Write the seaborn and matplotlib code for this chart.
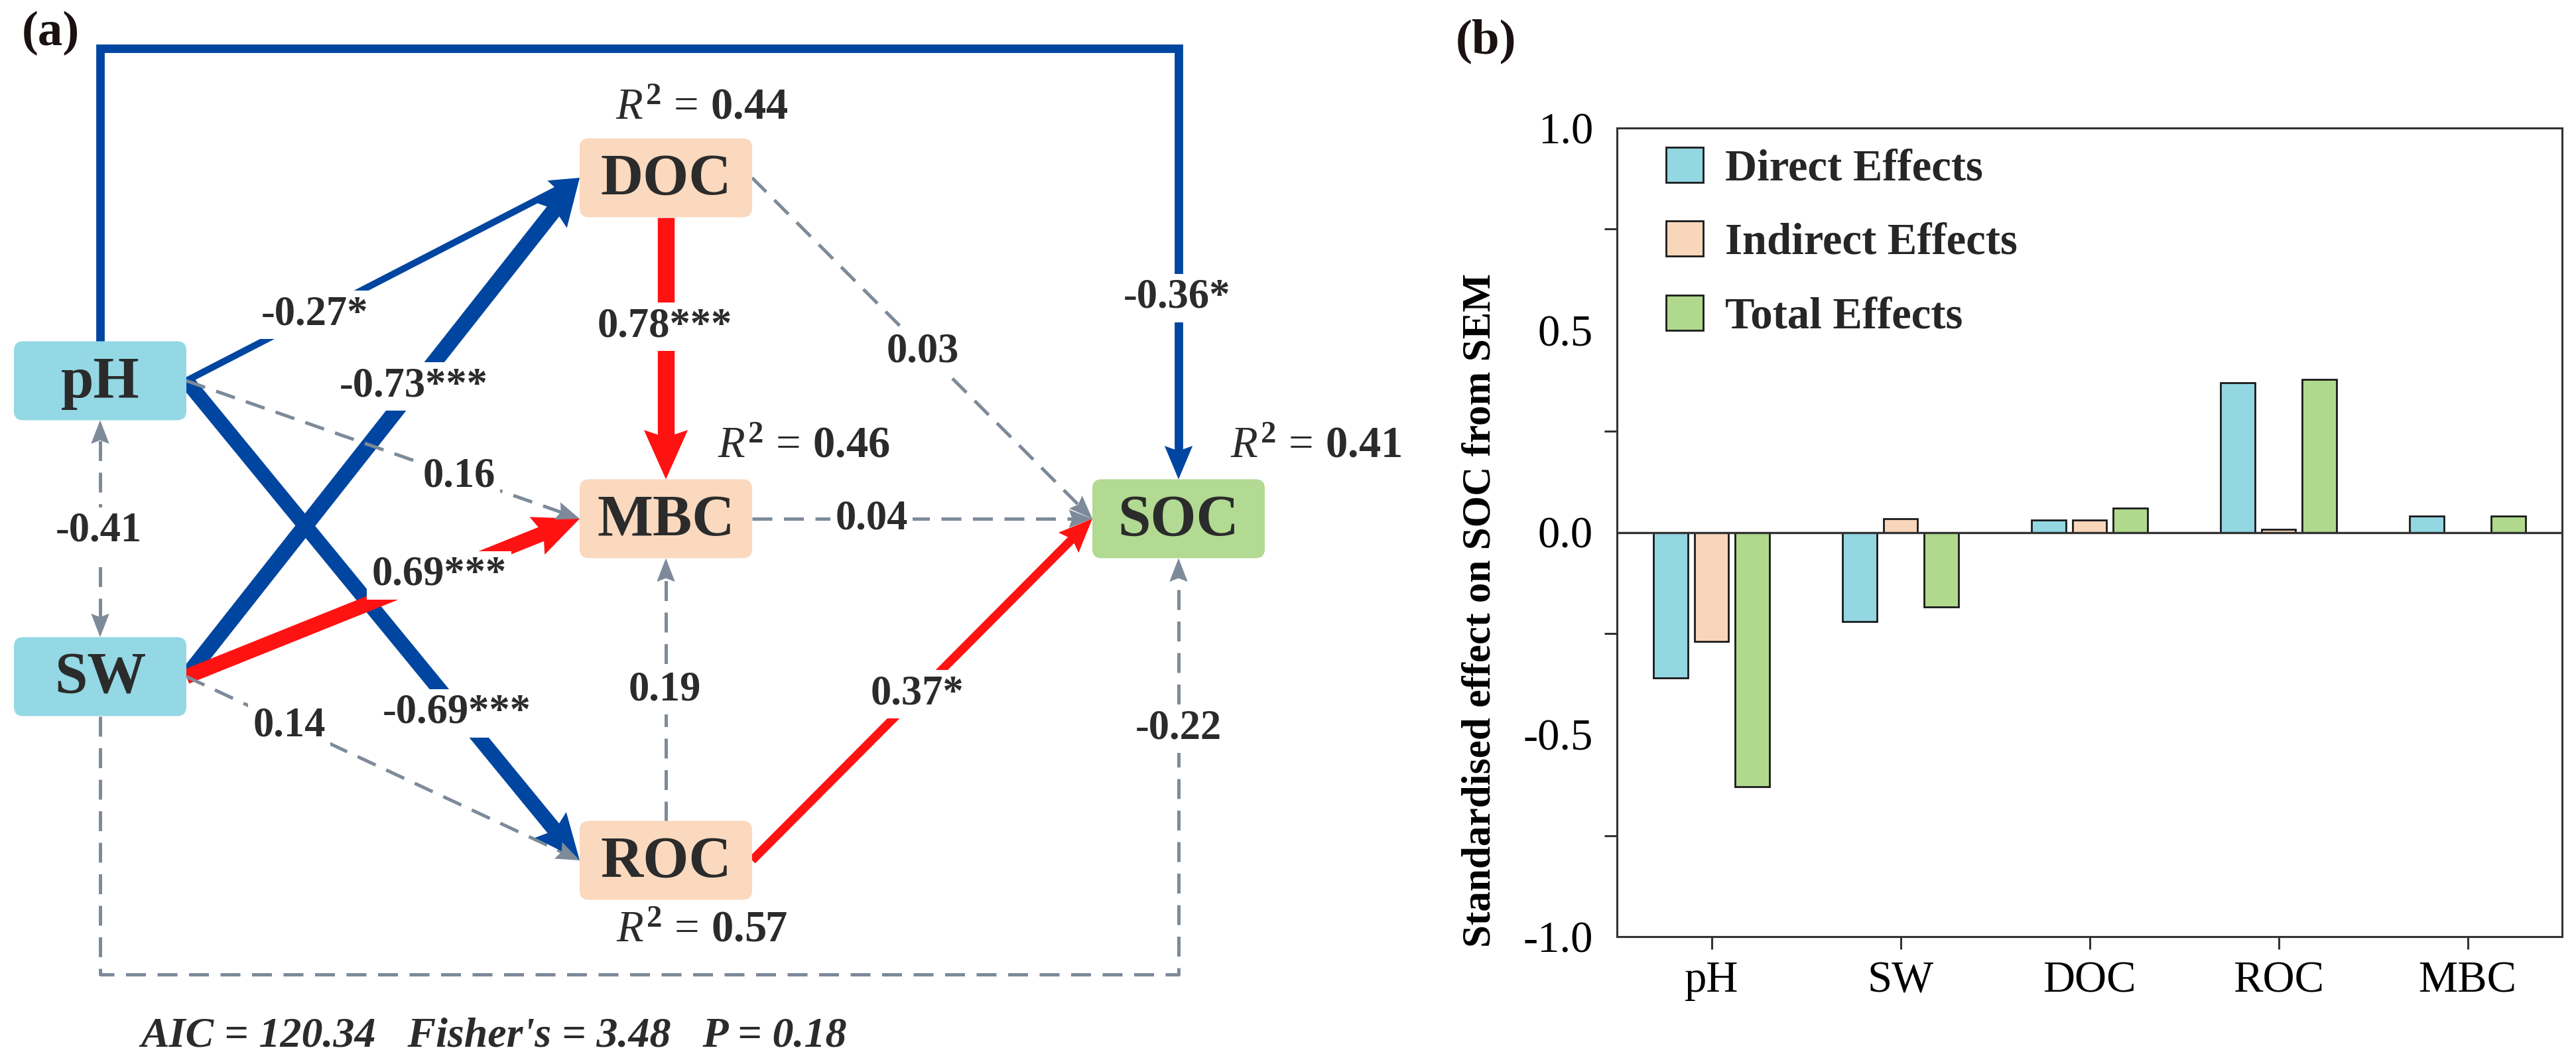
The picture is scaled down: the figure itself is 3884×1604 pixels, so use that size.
import numpy as np
import pandas as pd
import matplotlib
matplotlib.use("Agg")
import matplotlib.pyplot as plt
import seaborn as sns
from matplotlib.patches import FancyBboxPatch, Polygon
from matplotlib.ticker import MultipleLocator, FormatStrFormatter

# ---------------- data ----------------
variables = ["pH", "SW", "DOC", "ROC", "MBC"]
direct_effects = [-0.36, -0.22, 0.03, 0.37, 0.04]
indirect_effects = [-0.27, 0.033, 0.03, 0.008, 0.0]
total_effects = [-0.63, -0.184, 0.06, 0.378, 0.04]
effect_types = ["Direct Effects", "Indirect Effects", "Total Effects"]

# SEM paths: (source, target, coefficient, significance)
path_source = ["pH", "SW", "pH", "SW", "pH", "SW", "SW", "DOC", "ROC", "DOC", "MBC", "ROC", "pH", "SW"]
path_target = ["DOC", "DOC", "ROC", "MBC", "MBC", "ROC", "pH", "MBC", "MBC", "SOC", "SOC", "SOC", "SOC", "SOC"]
path_coef = [-0.27, -0.73, -0.69, 0.69, 0.16, 0.14, -0.41, 0.78, 0.19, 0.03, 0.04, 0.37, -0.36, -0.22]
path_sig = ["*", "***", "***", "***", "", "", "", "***", "", "", "", "*", "*", ""]
r2_nodes = ["DOC", "MBC", "SOC", "ROC"]
r2_values = [0.44, 0.46, 0.41, 0.57]
fit_text = "AIC = 120.34   Fisher's = 3.48   P = 0.18"

# ---------------- style ----------------
sns.set_style("white")
plt.rcParams["font.family"] = ["Liberation Serif", "DejaVu Serif"]
plt.rcParams["axes.unicode_minus"] = False
plt.rcParams["mathtext.fontset"] = "custom"
plt.rcParams["mathtext.rm"] = "Liberation Serif"
plt.rcParams["mathtext.it"] = "Liberation Serif:italic"
plt.rcParams["mathtext.bf"] = "Liberation Serif:bold"

W, H, DPI = 3884, 1604, 200
PX = 72 / DPI
fig = plt.figure(figsize=(W / DPI, H / DPI), dpi=DPI)

TXT = "#2b2b2b"
BLUE = "#0046A0"
RED = "#FF1212"
GRAY = "#7D8A99"

# ---------------- panel (a): SEM diagram ----------------
ax_a = fig.add_axes([0, 0, 1, 1])
ax_a.set_xlim(0, W)
ax_a.set_ylim(H, 0)
ax_a.axis("off")

node_pos = {"pH": (151, 574), "SW": (151, 1020), "DOC": (1004, 268),
            "MBC": (1004, 782), "ROC": (1004, 1297), "SOC": (1777, 782)}
node_col = {"pH": "#93D8E4", "SW": "#93D8E4", "DOC": "#FAD9BF",
            "MBC": "#FAD9BF", "ROC": "#FAD9BF", "SOC": "#B2DA92"}
BW, BH = 260, 119

def edge_pt(n, side):
    x, y = node_pos[n]
    return {"r": (x + BW / 2, y), "l": (x - BW / 2, y),
            "t": (x, y - BH / 2), "b": (x, y + BH / 2)}[side]

def head(tip, prev, color, lw_px):
    tip = np.asarray(tip, float)
    u = tip - np.asarray(prev, float)
    u /= np.linalg.norm(u)
    p = np.array([-u[1], u[0]])
    hl = 26 + 1.9 * lw_px
    hw = 18 + 1.9 * lw_px
    base = tip - u * hl
    notch = tip - u * hl * 0.85
    poly = Polygon([tip, base + p * hw / 2, notch, base - p * hw / 2],
                   closed=True, fc=color, ec="none", zorder=2.5)
    ax_a.add_patch(poly)
    return tip - u * hl * 0.8

def draw_path(pts, color, lw_px, dashed, both=False):
    pts = np.array(pts, float)
    line = pts.copy()
    line[-1] = head(pts[-1], pts[-2], color, lw_px)
    if both:
        line[0] = head(pts[0], pts[1], color, lw_px)
    ls = (0, (6, 3.5)) if dashed else "-"
    ax_a.plot(line[:, 0], line[:, 1], color=color, lw=lw_px * PX, ls=ls,
              solid_capstyle="butt", dash_capstyle="butt",
              solid_joinstyle="miter", zorder=2)

route = {
    ("pH", "DOC"): [edge_pt("pH", "r"), edge_pt("DOC", "l")],
    ("SW", "DOC"): [edge_pt("SW", "r"), edge_pt("DOC", "l")],
    ("pH", "ROC"): [edge_pt("pH", "r"), edge_pt("ROC", "l")],
    ("SW", "MBC"): [edge_pt("SW", "r"), edge_pt("MBC", "l")],
    ("pH", "MBC"): [edge_pt("pH", "r"), edge_pt("MBC", "l")],
    ("SW", "ROC"): [edge_pt("SW", "r"), edge_pt("ROC", "l")],
    ("SW", "pH"): [edge_pt("SW", "t"), edge_pt("pH", "b")],
    ("DOC", "MBC"): [edge_pt("DOC", "b"), edge_pt("MBC", "t")],
    ("ROC", "MBC"): [edge_pt("ROC", "t"), edge_pt("MBC", "b")],
    ("DOC", "SOC"): [edge_pt("DOC", "r"), edge_pt("SOC", "l")],
    ("MBC", "SOC"): [edge_pt("MBC", "r"), edge_pt("SOC", "l")],
    ("ROC", "SOC"): [edge_pt("ROC", "r"), edge_pt("SOC", "l")],
    ("pH", "SOC"): [edge_pt("pH", "t"), (151, 73), (1777, 73), edge_pt("SOC", "t")],
    ("SW", "SOC"): [edge_pt("SW", "b"), (151, 1469), (1777, 1469), edge_pt("SOC", "b")],
}
label_pos = {
    ("pH", "DOC"): (474, 474), ("SW", "DOC"): (624, 582), ("pH", "ROC"): (689, 1075),
    ("SW", "MBC"): (662, 867), ("pH", "MBC"): (692, 719), ("SW", "ROC"): (436, 1095),
    ("SW", "pH"): (149, 801), ("DOC", "MBC"): (1002, 492), ("ROC", "MBC"): (1002, 1040),
    ("DOC", "SOC"): (1391, 531), ("MBC", "SOC"): (1314, 782), ("ROC", "SOC"): (1383, 1046),
    ("pH", "SOC"): (1774, 449), ("SW", "SOC"): (1777, 1098),
}

for s, t, c, sig in zip(path_source, path_target, path_coef, path_sig):
    key = (s, t)
    if sig:
        col = RED if c > 0 else BLUE
        draw_path(route[key], col, 2 + 30 * abs(c), dashed=False)
    else:
        draw_path(route[key], GRAY, 5, dashed=True, both=(key == ("SW", "pH")))
    lx, ly = label_pos[key]
    ax_a.text(lx, ly, f"{c:.2f}{sig}", ha="center", va="center", fontsize=22.5,
              fontweight="bold", color=TXT, zorder=4,
              bbox=dict(boxstyle="square,pad=0.12", fc="white", ec="none"))

for n, (x, y) in node_pos.items():
    ax_a.add_patch(FancyBboxPatch((x - BW / 2, y - BH / 2), BW, BH,
                                  boxstyle="round,pad=0,rounding_size=14",
                                  fc=node_col[n], ec="none", zorder=3))
    ax_a.text(x, y + 3, n, ha="center", va="center", fontsize=32,
              fontweight="bold", color=TXT, zorder=5)

r2_pos = {"DOC": (1058, 163), "MBC": (1212, 673), "SOC": (1984, 673), "ROC": (1058, 1403)}
for n, v in zip(r2_nodes, r2_values):
    x, y = r2_pos[n]
    ax_a.text(x, y, r"$R^{\mathbf{2}}\,=\,\mathbf{%.2f}$" % v, ha="center", va="center",
              fontsize=24, color=TXT, zorder=5)

ax_a.text(745, 1563, fit_text, ha="center", va="center", fontsize=23,
          fontweight="bold", fontstyle="italic", color=TXT)
ax_a.text(76, 50, "(a)", ha="center", va="center", fontsize=27,
          fontweight="bold", color="#1a1110")
ax_a.text(2241, 62, "(b)", ha="center", va="center", fontsize=27,
          fontweight="bold", color="#1a1110")

# ---------------- panel (b): effects bar chart ----------------
L, R, T, B = 2438, 3863, 193, 1412
ax_b = fig.add_axes([L / W, 1 - B / H, (R - L) / W, (B - T) / H])

df = pd.DataFrame({
    "Variable": variables * 3,
    "Effect": direct_effects + indirect_effects + total_effects,
    "Type": [effect_types[0]] * 5 + [effect_types[1]] * 5 + [effect_types[2]] * 5,
})
bar_colors = ["#93D7E3", "#F8D6BA", "#B0D98D"]
sns.barplot(data=df, x="Variable", y="Effect", hue="Type", order=variables,
            hue_order=effect_types, palette=bar_colors, width=0.645, gap=0.16,
            edgecolor="#1a1a1a", linewidth=1.0, saturation=1, ax=ax_b)

ax_b.axhline(0, color="#333333", lw=1.2, zorder=3)
ax_b.set_xlim(-0.5, 4.5)
ax_b.set_ylim(-1.0, 1.0)
ax_b.yaxis.set_major_locator(MultipleLocator(0.5))
ax_b.yaxis.set_minor_locator(MultipleLocator(0.25))
ax_b.yaxis.set_major_formatter(FormatStrFormatter("%.1f"))
ax_b.tick_params(axis="both", which="both", direction="out", length=7, width=1.1,
                 color="#333333", labelsize=24, labelcolor="black", pad=6)
ax_b.tick_params(axis="y", which="minor", left=True)
ax_b.tick_params(axis="x", which="both", bottom=True)
ax_b.tick_params(axis="x", which="minor", bottom=False)
for lab in ax_b.get_xticklabels() + ax_b.get_yticklabels():
    lab.set_fontfamily("Liberation Serif")
for sp in ax_b.spines.values():
    sp.set_visible(True)
    sp.set_color("#333333")
    sp.set_linewidth(1.1)
ax_b.set_xlabel("")
ax_b.set_ylabel("Standardised effect on SOC from SEM", fontsize=22,
                fontweight="bold", color="black")
ax_b.yaxis.set_label_coords(-0.125, 0.404)

handles, labels = ax_b.get_legend_handles_labels()
if ax_b.get_legend() is not None:
    ax_b.get_legend().remove()
leg = ax_b.legend(handles, labels, loc="upper left",
                  bbox_to_anchor=((2512 - L) / (R - L), 1 - (222 - T) / (B - T)),
                  frameon=False, borderaxespad=0, borderpad=0,
                  handlelength=0.84, handleheight=0.84, handletextpad=0.5,
                  labelspacing=0.72, prop={"size": 24, "weight": "bold"})

fig.savefig("out.png", dpi=DPI)
